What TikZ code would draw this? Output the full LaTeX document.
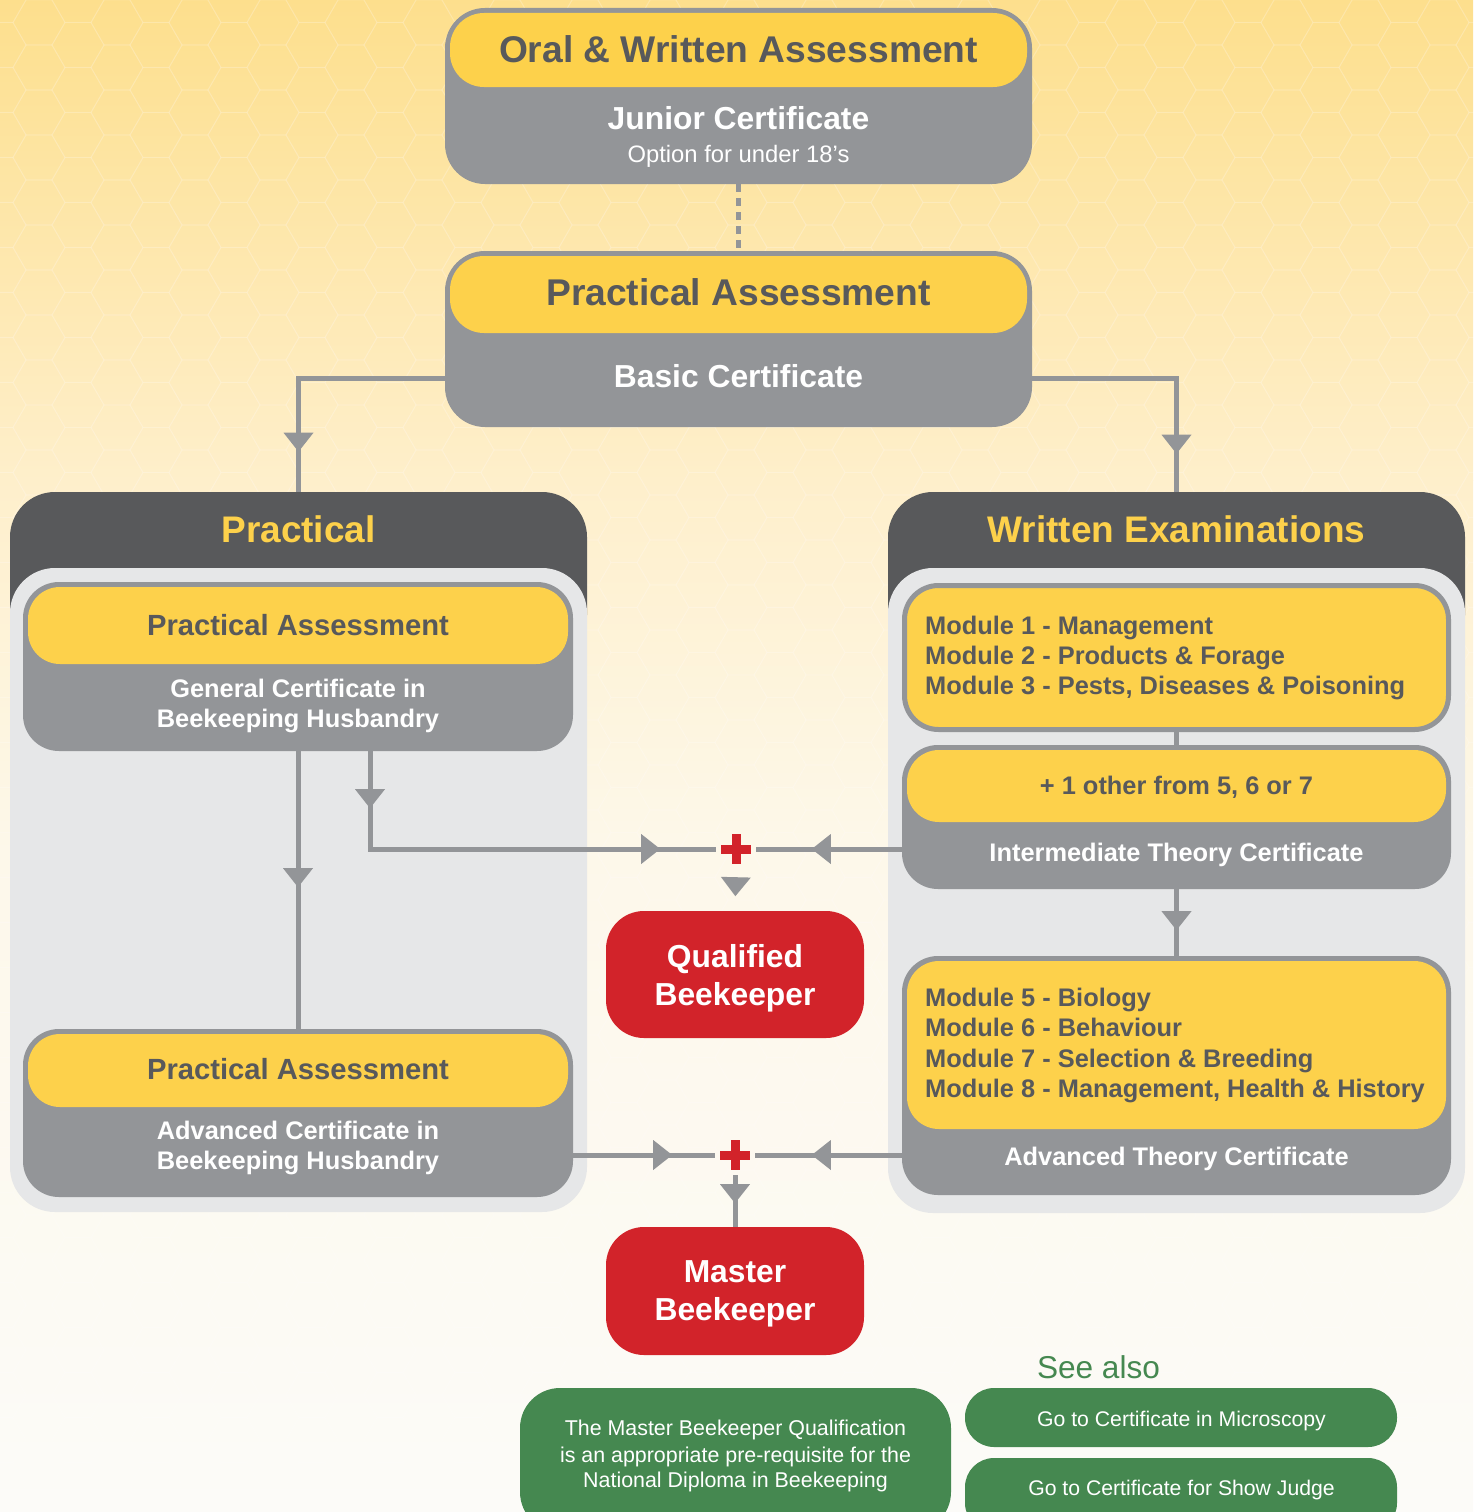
\documentclass[tikz,border=0pt]{standalone}
\usepackage{fontspec}
\setmainfont{Liberation Sans}
\usetikzlibrary{decorations.markings,calc}
\definecolor{cgray}{HTML}{939598}
\definecolor{cdark}{HTML}{58595B}
\definecolor{clight}{HTML}{E6E7E8}
\definecolor{cyel}{HTML}{FDD14B}
\definecolor{ctext}{HTML}{58595B}
\definecolor{cred}{HTML}{D2232A}
\definecolor{cgreen}{HTML}{458850}
\definecolor{bgA}{HTML}{FDDF8D}
\definecolor{bgM}{HTML}{FEEFCB}
\definecolor{bgB}{HTML}{FDF8EA}
\definecolor{bgC}{HTML}{FCFBF8}
\tikzset{
  gbox/.style={fill=cgray, rounded corners=40pt, inner sep=0pt},
  ybox/.style={fill=cyel, rounded corners=34pt, inner sep=0pt},
  dkbox/.style={fill=cdark, rounded corners=45pt, inner sep=0pt},
  ltbox/.style={fill=clight, rounded corners=45pt, inner sep=0pt},
  rbox/.style={fill=cred, rounded corners=38pt, inner sep=0pt},
  grbox/.style={fill=cgreen, inner sep=0pt},
  txt/.style={anchor=base, inner sep=0pt},
  thead/.style={txt, text=ctext, font=\fontsize{37.2}{44}\selectfont\bfseries},
  tcert/.style={txt, text=white, font=\fontsize{31.8}{38}\selectfont\bfseries},
  tnote/.style={txt, text=white, font=\fontsize{23.8}{28}\selectfont},
  thdr/.style={txt, text=cyel, font=\fontsize{37}{44}\selectfont\bfseries},
  tsub/.style={txt, text=ctext, font=\fontsize{29.2}{35}\selectfont\bfseries},
  tsw/.style={txt, text=white, font=\fontsize{25.4}{30}\selectfont\bfseries},
  tsd/.style={txt, text=ctext, font=\fontsize{25.4}{30}\selectfont\bfseries},
  tmod/.style={tsd, anchor=base west},
  tgr/.style={txt, text=white, font=\fontsize{21.4}{26}\selectfont},
  tlink/.style={txt, text=white, font=\fontsize{21.2}{26}\selectfont},
  plusn/.style={minimum size=40pt, inner sep=0pt},
  conn/.style={draw=cgray, line width=5pt},
  hexline/.style={draw=white, opacity=0.13, line width=1pt},
  tri/.style={postaction={decorate}, decoration={markings,
    mark=at position #1 with {\fill[cgray] (0pt,0pt) -- (-19pt,15pt) -- (-19pt,-15pt) -- cycle;}}},
  tritwo/.style 2 args={postaction={decorate}, decoration={markings,
    mark=at position #1 with {\fill[cgray] (0pt,0pt) -- (-19pt,15pt) -- (-19pt,-15pt) -- cycle;},
    mark=at position #2 with {\fill[cgray] (0pt,0pt) -- (-19pt,15pt) -- (-19pt,-15pt) -- cycle;}}}
}
\begin{document}
\begin{tikzpicture}[x=1pt,y=-1pt]
\useasboundingbox (0,0) rectangle (1473,1512);
\shade[top color=bgA, bottom color=bgM] (0,0) rectangle (1473,480);
\shade[top color=bgM, bottom color=bgB] (0,480) rectangle (1473,850);
\shade[top color=bgB, bottom color=bgC] (0,850) rectangle (1473,1512);
% faint honeycomb texture
\foreach \i in {0,...,38} {
  \foreach \j in {0,...,34} {
    \pgfmathsetmacro\hx{\i*39}
    \pgfmathsetmacro\hy{\j*45+mod(\i,2)*22.5}
    \path[hexline] (\hx,\hy) +(0:26) -- +(60:26) -- +(120:26) -- +(180:26) -- +(240:26) -- +(300:26) -- cycle;
  }
}

% top box: oral & written
\node[gbox, minimum width=587, minimum height=176] (b1) at (738.5,96) {};
\node[ybox, minimum width=577, minimum height=74] (b1y) at (738.5,50) {};
\node[thead] (b1a) at (738.5,63) {Oral \& Written Assessment};
\node[tcert] (b1b) at (738.5,129) {Junior Certificate};
\node[tnote] (b1c) at (738.5,162) {Option for under 18’s};

% second box: practical / basic
\node[gbox, minimum width=587, minimum height=176] (b2) at (738.5,339) {};
\node[ybox, minimum width=577, minimum height=77] (b2y) at (738.5,294.5) {};
\node[thead] (b2a) at (738.5,305) {Practical Assessment};
\node[tcert] (b2b) at (738.5,387) {Basic Certificate};

% left panel
\node[dkbox, minimum width=577, minimum height=168] (ph) at (298.5,576) {};
\node[ltbox, minimum width=577, minimum height=644] (pb) at (298.5,890) {};
\node[thdr] (pht) at (298.5,542) {Practical};

% right panel
\node[dkbox, minimum width=577, minimum height=168] (wh) at (1176.5,576) {};
\node[ltbox, minimum width=577, minimum height=645] (wb) at (1176.5,890.5) {};
\node[thdr] (wht) at (1176.5,542) {Written Examinations};

% left inner boxes
\node[gbox, rounded corners=36pt, minimum width=550, minimum height=169] (g1) at (298,666.5) {};
\node[ybox, rounded corners=32pt, minimum width=540, minimum height=77] (g1y) at (298,625.5) {};
\node[tsub] (g1a) at (298,635) {Practical Assessment};
\node[tsw] (g1b) at (298,697) {General Certificate in};
\node[tsw] (g1c) at (298,727) {Beekeeping Husbandry};

\node[gbox, rounded corners=36pt, minimum width=550, minimum height=168] (g2) at (298,1113) {};
\node[ybox, rounded corners=32pt, minimum width=540, minimum height=73] (g2y) at (298,1070.5) {};
\node[tsub] (g2a) at (298,1079) {Practical Assessment};
\node[tsw] (g2b) at (298,1139) {Advanced Certificate in};
\node[tsw] (g2c) at (298,1169) {Beekeeping Husbandry};

% right inner boxes
\node[ybox, draw=cgray, line width=5pt, rounded corners=34pt, minimum width=544, minimum height=144] (m1) at (1176.5,657.5) {};
\node[tmod] (m1a) at (925,634) {Module 1 - Management};
\node[tmod] (m1b) at (925,664) {Module 2 - Products \& Forage};
\node[tmod] (m1c) at (925,694) {Module 3 - Pests, Diseases \& Poisoning};

\node[gbox, rounded corners=36pt, minimum width=549, minimum height=144] (ib) at (1176.5,817) {};
\node[ybox, rounded corners=32pt, minimum width=539, minimum height=72] (iby) at (1176.5,786) {};
\node[tsd] (iba) at (1176.5,794) {+ 1 other from 5, 6 or 7};
\node[tsw] (ibb) at (1176.5,861) {Intermediate Theory Certificate};

\node[gbox, rounded corners=36pt, minimum width=549, minimum height=239] (at) at (1176.5,1075.5) {};
\node[ybox, rounded corners=32pt, minimum width=539, minimum height=168] (aty) at (1176.5,1045) {};
\node[tmod] (m5) at (925,1006) {Module 5 - Biology};
\node[tmod] (m6) at (925,1036.5) {Module 6 - Behaviour};
\node[tmod] (m7) at (925,1067) {Module 7 - Selection \& Breeding};
\node[tmod] (m8) at (925,1097.5) {Module 8 - Management, Health \& History};
\node[tsw] (atb) at (1176.5,1165) {Advanced Theory Certificate};

% red result boxes
\node[rbox, minimum width=258, minimum height=127] (qb) at (735,974.5) {};
\node[tcert] (qba) at (735,967) {Qualified};
\node[tcert] (qbb) at (735,1005) {Beekeeper};
\node[rbox, minimum width=258, minimum height=128] (mb) at (735,1291) {};
\node[tcert] (mba) at (735,1282) {Master};
\node[tcert] (mbb) at (735,1320) {Beekeeper};

% plus junctions
\node[plusn] (p1) at (736,849) {};
\fill[cred] ($(p1)+(-15,-4.5)$) rectangle ($(p1)+(15,4.5)$);
\fill[cred] ($(p1)+(-4.5,-15)$) rectangle ($(p1)+(4.5,15)$);
\node[plusn] (p2) at (735,1155) {};
\fill[cred] ($(p2)+(-15,-4.5)$) rectangle ($(p2)+(15,4.5)$);
\fill[cred] ($(p2)+(-4.5,-15)$) rectangle ($(p2)+(4.5,15)$);

% connectors
\draw[conn, dash pattern=on 8pt off 6pt] (b1.south) -- (b2.north);
\draw[conn, tri=220pt] ([yshift=-39pt]b2.west) -| (ph.north);
\draw[conn, tri=220pt] ([yshift=-39pt]b2.east) -| (wh.north);
\draw[conn, tri=136pt] (g1.south) -- (g2.north);
\draw[conn, tritwo={57pt}{388pt}] ([xshift=72pt]g1.south) |- (p1.west);
\draw[conn, tri=90pt] (p1 -| ib.west) -- (p1.east);
\path[tri=27pt] (p1.south) -- (qb.north);
\draw[conn] (m1.south) -- (ib.north);
\draw[conn, tri=41pt] (ib.south) -- (at.north);
\draw[conn, tri=99pt] (p2 -| g2.east) -- (p2.west);
\draw[conn, tri=90pt] (p2 -| at.west) -- (p2.east);
\draw[conn, tri=28pt] (p2.south) -- (mb.north);

% bottom green notes
\node[grbox, rounded corners=40pt, minimum width=431, minimum height=144] (gb) at (735.5,1460) {};
\node[tgr] (gba) at (735.5,1435) {The Master Beekeeper Qualification};
\node[tgr] (gbb) at (735.5,1462) {is an appropriate pre-requisite for the};
\node[tgr] (gbc) at (735.5,1487) {National Diploma in Beekeeping};
\node[txt, text=cgreen, font=\fontsize{31.6}{38}\selectfont] (see) at (1098.5,1378) {See also};
\node[grbox, rounded corners=29pt, minimum width=432, minimum height=59] (gl1) at (1181,1417.5) {};
\node[tlink] (gl1t) at (1181.5,1426) {Go to Certificate in Microscopy};
\node[grbox, rounded corners=29pt, minimum width=432, minimum height=74] (gl2) at (1181,1495) {};
\node[tlink] (gl2t) at (1181.5,1495) {Go to Certificate for Show Judge};
\end{tikzpicture}
\end{document}
